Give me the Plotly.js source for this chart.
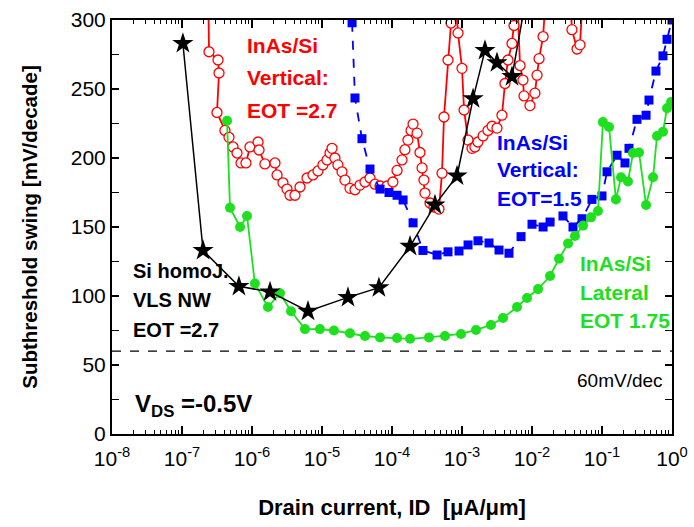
<!DOCTYPE html>
<html>
<head>
<meta charset="utf-8">
<script src="https://cdn.plot.ly/plotly-3.0.1.min.js"></script>
<style>html,body{margin:0;padding:0;background:#fff;}#chart{width:694px;height:527px;}</style>
</head>
<body>
<div id="chart"></div>
<script>
// Drain current [uA/um] and subthreshold swing [mV/decade]
const redI = [2.35e-7,2.43e-7,3.27e-7,3.38e-7,3.16e-7,4.11e-7,4.69e-7,5.36e-7,6.11e-7,6.97e-7,8.20e-7,9.35e-7,1.22e-6,1.26e-6,1.53e-6,2.13e-6,2.28e-6,2.77e-6,3.16e-6,3.49e-6,4.11e-6,4.85e-6,6.11e-6,7.43e-6,8.77e-6,1.03e-5,1.18e-5,1.30e-5,1.39e-5,1.53e-5,1.69e-5,1.93e-5,2.13e-5,2.51e-5,2.96e-5,3.49e-5,4.11e-5,4.85e-5,5.71e-5,6.75e-5,8.49e-5,1.03e-4,1.18e-4,1.39e-4,1.53e-4,1.69e-4,1.87e-4,2.0e-4,2.28e-4,2.51e-4,2.69e-4,2.86e-4,2.96e-4,3.49e-4,3.98e-4,4.69e-4,5.18e-4,5.53e-4,6.31e-4,6.97e-4,7.94e-4,8.77e-4,1.0e-3,1.07e-3,1.22e-3,1.39e-3,1.53e-3,1.69e-3,2.0e-3,2.35e-3,2.69e-3,3.16e-3,3.72e-3,4.11e-3,4.54e-3,5.18e-3,5.53e-3,6.11e-3,6.75e-3,7.43e-3,7.69e-3,9.35e-3,1.10e-2,1.18e-2,1.26e-2,1.44e-2,1.585e-2,3.49e-2,3.72e-2,4.40e-2,4.85e-2,5.36e-2];
const redS = [340,277,271,261.6,233,220,215,208,203.6,196.4,196.4,208,211.6,205.8,195.7,196.4,187.7,182,177.5,173,173,179,185.5,187.7,190.6,195,198.6,203.6,207,200,195,190,184,178,177,180.4,182.6,185.5,181,179.7,179.7,182.6,191,198.6,206,213,220,224.6,218,204,192.8,184,174.6,167.4,164.5,163,189,229.7,271,297.8,320,290.6,265,234.8,213,207,208,211.6,216,220,223,221.7,231,254,271,283,296,320,267,256.5,245,238,247,260,272,288,320,320,293,279,282,320];

const blueI = [2.69e-5,2.96e-5,3.72e-5,4.85e-5,6.75e-5,9.06e-5,1.18e-4,1.44e-4,2.0e-4,2.77e-4,4.40e-4,6.31e-4,9.06e-4,1.22e-3,1.69e-3,2.43e-3,3.38e-3,4.69e-3,6.97e-3,1.0e-2,1.44e-2,1.81e-2,2.77e-2,3.85e-2,5.18e-2,7.19e-2,0.1,0.118,0.164,0.213,0.243,0.316,0.426,0.469,0.590,0.743,0.849,1.0];
const blueS = [298,243.5,214,192,177.5,175,173,169.6,153,133,129.7,132,132.6,137,140,138.4,133.3,131,143,152,150,153.6,158,150,156,170,172.5,190,202,196.4,207,228,231,242,263,274,286,300];

const greenI = [4.40e-7,4.85e-7,6.75e-7,8.49e-7,1.10e-6,1.69e-6,2.51e-6,3.61e-6,5.71e-6,9.35e-6,1.48e-5,2.51e-5,4.11e-5,6.75e-5,1.18e-4,1.81e-4,3.38e-4,5.71e-4,9.68e-4,1.585e-3,2.59e-3,3.85e-3,6.11e-3,8.49e-3,1.22e-2,1.81e-2,2.43e-2,3.27e-2,4.11e-2,5.36e-2,6.97e-2,8.77e-2,0.103,0.126,0.158,0.187,0.235,0.277,0.338,0.426,0.536,0.611,0.743,0.849,0.968];
const greenS = [227,164,150,158,109,92,102,89,76,76,75,73,71,70,69.6,69,70,71,72.5,75.4,79,84,92,98.6,105,114.5,127,138,143.5,151,157,161.6,226,222.5,170,186,183,203.6,204,166,186,216,219,236,240.6];

const blackI = [1.03e-7,2.0e-7,6.5e-7,1.81e-6,6.31e-6,2.35e-5,6.5e-5,1.81e-4,4.11e-4,8.49e-4,1.44e-3,2.13e-3,3.16e-3,5.18e-3,8.5e-3];
const blackS = [283,133,107,103,89,99,106,136,166,187,243,278,269,259,320];

const xTickVals = [1e-8,1e-7,1e-6,1e-5,1e-4,1e-3,1e-2,1e-1,1];
const xTickText = ['10<sup>-8</sup>','10<sup>-7</sup>','10<sup>-6</sup>','10<sup>-5</sup>','10<sup>-4</sup>','10<sup>-3</sup>','10<sup>-2</sup>','10<sup>-1</sup>','10<sup>0</sup>'];

const FONT = 'Liberation Sans, Arial, Helvetica, sans-serif';
const RED = '#ff0000', BLUE = '#0000ff', GREEN = '#1ee01e', BLACK = '#000000';

const traces = [
  {x: redI, y: redS, mode: 'lines+markers', type: 'scatter',
   line: {color: RED, width: 1.8},
   marker: {symbol: 'circle', size: 10, color: '#ffffff', line: {color: RED, width: 1.3}}},
  {x: blueI, y: blueS, mode: 'lines+markers', type: 'scatter',
   line: {color: BLUE, width: 1.8, dash: 'dash'},
   marker: {symbol: 'square', size: 9, color: BLUE}},
  {x: greenI, y: greenS, mode: 'lines+markers', type: 'scatter',
   line: {color: GREEN, width: 1.8},
   marker: {symbol: 'circle', size: 10, color: GREEN}},
  {x: blackI, y: blackS, mode: 'lines+markers', type: 'scatter',
   line: {color: BLACK, width: 1.5},
   marker: {symbol: 'star', size: 16, color: BLACK}}
];

function note(text, x, y, color, size, bold, xanchor) {
  return {xref: 'paper', yref: 'paper', x: x, y: y, xanchor: xanchor || 'left', yanchor: 'middle',
    text: bold ? '<b>' + text + '</b>' : text, showarrow: false,
    font: {family: FONT, size: size, color: color}};
}

const layout = {
  width: 694, height: 527,
  margin: {l: 112, r: 22, t: 20, b: 93},
  paper_bgcolor: '#ffffff', plot_bgcolor: '#ffffff',
  showlegend: false,
  font: {family: FONT, color: '#000'},
  xaxis: {
    type: 'log', range: [-8, 0],
    tickmode: 'array', tickvals: xTickVals, ticktext: xTickText,
    ticks: 'inside', ticklen: 8, tickwidth: 1.2, tickcolor: '#000',
    ticklabelstandoff: 5,
    minor: {ticks: 'inside', ticklen: 4, tickwidth: 1, tickcolor: '#000', dtick: 'D1', showgrid: false},
    showline: true, linecolor: '#000', linewidth: 2, mirror: 'ticks',
    showgrid: false, zeroline: false,
    tickfont: {family: FONT, size: 21, color: '#000'},
    title: {text: '<b>Drain current, ID  [\u03bcA/\u03bcm]</b>', font: {family: FONT, size: 22, color: '#000'}, standoff: 30}
  },
  yaxis: {
    range: [0, 300], dtick: 50, tick0: 0,
    ticks: 'inside', ticklen: 7, tickwidth: 1.2, tickcolor: '#000',
    minor: {ticks: 'inside', ticklen: 7, tickwidth: 1.2, tickcolor: '#000', dtick: 25, showgrid: false},
    showline: true, linecolor: '#000', linewidth: 2, mirror: 'ticks',
    showgrid: false, zeroline: false,
    tickfont: {family: FONT, size: 21, color: '#000'},
    title: {text: '<b>Subthreshold swing [mV/decade]</b>', font: {family: FONT, size: 20.5, color: '#000'}, standoff: 28}
  },
  shapes: [
    {type: 'line', xref: 'paper', yref: 'y', x0: 0, x1: 1, y0: 60, y1: 60,
     line: {color: '#000', width: 1.2, dash: 'dash'}}
  ],
  annotations: [
    note('InAs/Si', 0.2375, 0.9396, RED, 21, true),
    note('Vertical:', 0.2375, 0.8600, RED, 21, true),
    note('EOT =2.7', 0.2375, 0.7826, RED, 21, true),
    note('InAs/Si', 0.684, 0.7053, BLUE, 21, true),
    note('Vertical:', 0.684, 0.6377, BLUE, 21, true),
    note('EOT=1.5', 0.684, 0.5700, BLUE, 21, true),
    note('InAs/Si', 0.832, 0.4130, GREEN, 21, true),
    note('Lateral', 0.832, 0.3406, GREEN, 21, true),
    note('EOT 1.75', 0.832, 0.2730, GREEN, 21, true),
    note('Si homoJ.', 0.0339, 0.3937, BLACK, 20, true),
    note('VLS NW', 0.0339, 0.3237, BLACK, 20, true),
    note('EOT =2.7', 0.0339, 0.2512, BLACK, 20, true),
    note('60mV/dec', 0.9875, 0.1304, BLACK, 19, false, 'right'),
    note('V<sub>DS</sub> =-0.5V', 0.0375, 0.07, BLACK, 24, true)
  ]
};

Plotly.newPlot('chart', traces, layout, {staticPlot: true, displayModeBar: false});
</script>
</body>
</html>
